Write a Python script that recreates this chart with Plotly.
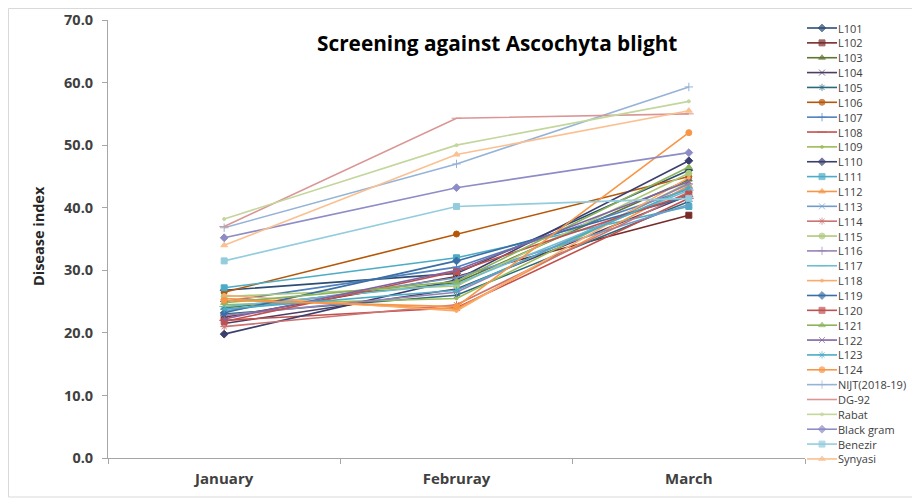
import plotly.graph_objects as go

months = ["January", "Februray", "March"]

names = ["L101", "L102", "L103", "L104", "L105", "L106", "L107", "L108", "L109", "L110",
         "L111", "L112", "L113", "L114", "L115", "L116", "L117", "L118", "L119", "L120",
         "L121", "L122", "L123", "L124", "NIJT(2018-19)", "DG-92", "Rabat", "Black gram",
         "Benezir", "Synyasi"]

L101 = [26.8, 29.5, 46.0]
L102 = [22.5, 29.0, 38.8]
L103 = [24.0, 28.0, 44.5]
L104 = [21.5, 27.0, 42.0]
L105 = [23.0, 26.0, 41.0]
L106 = [26.5, 35.8, 45.0]
L107 = [25.0, 30.5, 43.0]
L108 = [22.0, 24.0, 41.5]
L109 = [24.5, 25.5, 44.0]
L110 = [19.8, 28.5, 47.5]
L111 = [27.2, 32.0, 40.2]
L112 = [25.5, 23.8, 43.5]
L113 = [23.5, 28.8, 40.5]
L114 = [21.0, 24.5, 42.5]
L115 = [25.8, 27.5, 45.5]
L116 = [22.8, 26.5, 43.8]
L117 = [24.2, 27.8, 42.8]
L118 = [26.0, 23.5, 44.8]
L119 = [23.2, 31.5, 41.8]
L120 = [21.8, 29.8, 42.2]
L121 = [24.8, 28.2, 46.5]
L122 = [22.2, 30.0, 44.2]
L123 = [23.8, 26.8, 43.2]
L124 = [25.2, 24.2, 52.0]
NIJT = [36.8, 47.0, 59.3]
DG92 = [37.0, 54.3, 55.0]
Rabat = [38.2, 50.0, 57.0]
BlackGram = [35.2, 43.2, 48.8]
Benezir = [31.5, 40.2, 41.5]
Synyasi = [34.0, 48.5, 55.5]

series = [L101, L102, L103, L104, L105, L106, L107, L108, L109, L110,
          L111, L112, L113, L114, L115, L116, L117, L118, L119, L120,
          L121, L122, L123, L124, NIJT, DG92, Rabat, BlackGram, Benezir, Synyasi]

colors = ["#2C4D75", "#772C2A", "#5F7530", "#4D3B62", "#276A7C", "#B65708",
          "#4F81BD", "#C0504D", "#9BBB59", "#3B3F6E", "#4BACC6", "#F79646",
          "#729ACA", "#CD7371", "#AFC97A", "#9983B5", "#6FBDD1", "#F9AB6B",
          "#3A6EA5", "#C0504D", "#8DB35A", "#8064A2", "#4BACC6", "#F79646",
          "#95B3D7", "#D99694", "#C3D69B", "#8E8CC7", "#93CDDD", "#FAC090"]

symbols = ["diamond", "square", "triangle-up", "x-thin-open", "asterisk-open", "circle",
           "cross-thin-open", "line-ew-open", "circle"] * 4

# page has an 8px body margin; figure is sized to fill the rest of the window
OFF = 8
W, H = 920 - OFF, 502 - OFF

def fx(p):  # page pixel x -> paper
    return (p - OFF) / W

def fy(p):  # page pixel y (from top) -> paper
    return 1 - (p - OFF) / H

# legend geometry (page pixels)
LEG_X0, LEG_X1 = 807, 837
LEG_TOP, LEG_STEP = 28, 14.86

fig = go.Figure()
annotations = []
for i, (n, v) in enumerate(zip(names, series)):
    sym = symbols[i]
    sz = 6
    if sym == "circle" and i % 9 == 8:
        sz = 3
    if sym == "line-ew-open":
        sz = 7
    fig.add_trace(go.Scatter(
        x=months, y=v, name=n, mode="lines+markers",
        line=dict(color=colors[i], width=1.6),
        marker=dict(symbol=sym, size=sz, color=colors[i],
                    line=dict(color=colors[i], width=1)),
        showlegend=False,
    ))
    # custom legend key
    fig.add_trace(go.Scatter(
        x=[0, 0.5, 1], y=[i, i, i], xaxis="x2", yaxis="y2", mode="lines+markers",
        line=dict(color=colors[i], width=1.6),
        marker=dict(symbol=sym, size=[0, sz, 0], color=colors[i],
                    line=dict(color=colors[i], width=1)),
        showlegend=False, hoverinfo="skip", cliponaxis=False,
    ))
    annotations.append(dict(text=n, xref="x2", yref="y2", x=1, y=i, xanchor="left",
                            yanchor="middle", showarrow=False, xshift=-1,
                            font=dict(size=11, color="#404040")))

# y2 range so that item i sits at page y = LEG_TOP + i*LEG_STEP
y2_top = (OFF - LEG_TOP) / LEG_STEP
y2_bot = (OFF + H - LEG_TOP) / LEG_STEP

annotations.append(dict(text="<b>Screening against Ascochyta blight</b>", xref="paper", yref="paper",
                        x=fx(497), y=fy(43), xanchor="center", yanchor="middle", showarrow=False,
                        font=dict(size=20.8, color="#000000")))
annotations.append(dict(text="<b>Disease index</b>", xref="paper", yref="paper",
                        x=fx(38), y=fy(236), xanchor="center", yanchor="middle", showarrow=False,
                        textangle=-90, font=dict(size=14.5, color="#262626")))

border = dict(color="#D9D9D9", width=1)
fig.update_layout(
    width=W, height=H,
    margin=dict(l=0, r=0, t=0, b=0, pad=0),
    paper_bgcolor="white", plot_bgcolor="white",
    font=dict(family="Open Sans, Liberation Sans, sans-serif", color="#404040"),
    showlegend=False,
    xaxis=dict(domain=[fx(108), fx(805)], showline=True, linecolor="#A6A6A6", linewidth=1,
               ticks="outside", tickson="boundaries", ticklen=5, tickcolor="#A6A6A6",
               showgrid=False, tickfont=dict(size=15, color="#404040"),
               ticklabelstandoff=7, range=[-0.5, 2.5], automargin=False,
               tickprefix="<b>", ticksuffix="</b>"),
    yaxis=dict(domain=[fy(458), fy(20)], range=[0, 70], dtick=10, tickformat=".1f",
               showline=True, linecolor="#A6A6A6", linewidth=1, ticks="outside", ticklen=5,
               tickcolor="#A6A6A6", showgrid=False, zeroline=False,
               tickfont=dict(size=14.5, color="#404040"), ticklabelstandoff=6,
               automargin=False, tickprefix="<b>", ticksuffix="</b>"),
    xaxis2=dict(domain=[fx(LEG_X0), fx(LEG_X1)], range=[0, 1], visible=False,
                anchor="y2", fixedrange=True),
    yaxis2=dict(domain=[0, 1], range=[y2_bot, y2_top], visible=False, anchor="x2",
                fixedrange=True),
    shapes=[
        dict(type="line", xref="paper", yref="paper", x0=0.5 / W, x1=0.5 / W,
             y0=fy(497), y1=1 - 0.5 / H, line=border),
        dict(type="line", xref="paper", yref="paper", x0=0.5 / W, x1=1,
             y0=1 - 0.5 / H, y1=1 - 0.5 / H, line=border),
        dict(type="line", xref="paper", yref="paper", x0=0.5 / W, x1=1,
             y0=fy(497), y1=fy(497), line=border),
    ],
    annotations=annotations,
)

fig.write_html("out.html")
